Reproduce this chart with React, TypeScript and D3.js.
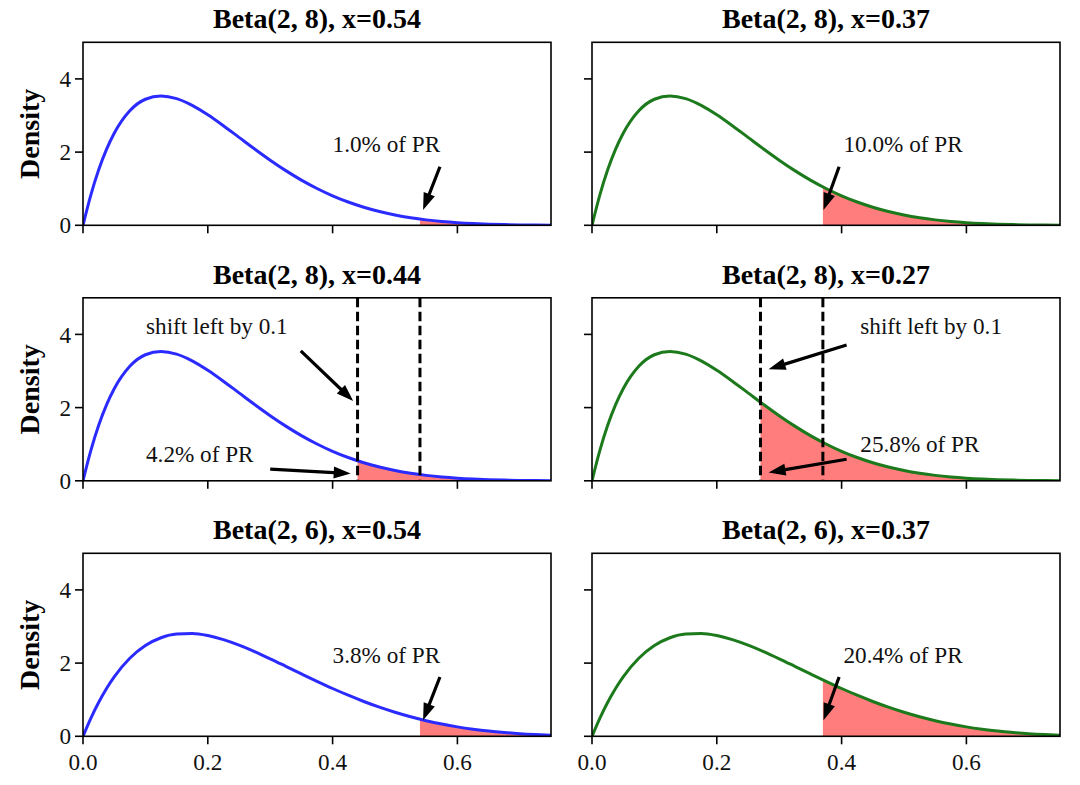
import React from "react";
import * as d3 from "d3";

// ---- data ----
const xValues = [0, 0.0125, 0.025, 0.0375, 0.05, 0.075, 0.1, 0.125, 0.15, 0.175, 0.2, 0.225, 0.25, 0.275, 0.3, 0.325, 0.35, 0.375, 0.4, 0.425, 0.45, 0.475, 0.5, 0.525, 0.55, 0.575, 0.6, 0.625, 0.65, 0.675, 0.7, 0.725, 0.75];
const densityBeta28 = [0, 0.824, 1.508, 2.066, 2.514, 3.129, 3.444, 3.534, 3.462, 3.278, 3.020, 2.721, 2.403, 2.085, 1.779, 1.494, 1.235, 1.006, 0.806, 0.636, 0.493, 0.376, 0.281, 0.206, 0.148, 0.104, 0.071, 0.047, 0.030, 0.019, 0.011, 0.006, 0.003];
const densityBeta26 = [0, 0.493, 0.925, 1.301, 1.625, 2.133, 2.480, 2.693, 2.795, 2.809, 2.753, 2.642, 2.492, 2.314, 2.118, 1.913, 1.706, 1.502, 1.306, 1.122, 0.951, 0.796, 0.656, 0.533, 0.426, 0.335, 0.258, 0.195, 0.143, 0.103, 0.071, 0.048, 0.031];

const panelTitles = ["Beta(2, 8), x=0.54", "Beta(2, 8), x=0.37", "Beta(2, 8), x=0.44", "Beta(2, 8), x=0.27", "Beta(2, 6), x=0.54", "Beta(2, 6), x=0.37"];
const panelSeries = [densityBeta28, densityBeta28, densityBeta28, densityBeta28, densityBeta26, densityBeta26];
const thresholds = [0.54, 0.37, 0.44, 0.27, 0.54, 0.37];
const dashedLines = [[], [], [0.44, 0.54], [0.27, 0.37], [], []];

const xTicks = [0, 0.2, 0.4, 0.6];
const yTicks = [0, 2, 4];
const xDomain = [0, 0.75];
const yDomain = [0, 5];

const annotationTexts = [
  { panel: 0, text: "1.0% of PR", x: 0.4, y: 2.0 },
  { panel: 1, text: "10.0% of PR", x: 0.403, y: 2.0 },
  { panel: 2, text: "shift left by 0.1", x: 0.101, y: 4.0 },
  { panel: 2, text: "4.2% of PR", x: 0.101, y: 0.52 },
  { panel: 3, text: "shift left by 0.1", x: 0.43, y: 4.0 },
  { panel: 3, text: "25.8% of PR", x: 0.43, y: 0.8 },
  { panel: 4, text: "3.8% of PR", x: 0.4, y: 2.0 },
  { panel: 5, text: "20.4% of PR", x: 0.403, y: 2.0 },
];
const annotationArrows = [
  { panel: 0, x1: 0.572, y1: 1.6, x2: 0.545, y2: 0.42 },
  { panel: 1, x1: 0.396, y1: 1.6, x2: 0.371, y2: 0.42 },
  { panel: 2, x1: 0.349, y1: 3.55, x2: 0.433, y2: 2.18 },
  { panel: 2, x1: 0.3, y1: 0.32, x2: 0.429, y2: 0.2 },
  { panel: 3, x1: 0.408, y1: 3.71, x2: 0.283, y2: 3.05 },
  { panel: 3, x1: 0.408, y1: 0.59, x2: 0.283, y2: 0.23 },
  { panel: 4, x1: 0.572, y1: 1.62, x2: 0.545, y2: 0.44 },
  { panel: 5, x1: 0.396, y1: 1.62, x2: 0.371, y2: 0.44 },
];

// ---- layout ----
const W = 1080;
const H = 785;
const colLefts = [83, 592];
const rowTops = [42.3, 297.8, 553.3];
const PW = 468;
const PH = 183;
const colColors = ["#2b2bff", "#1c7a1c"];
const fillColor = "#ff7d7d";
const serif = "'Liberation Serif', 'Times New Roman', Times, serif";
const labelSize = 23.2;

function arrowPath(ax: number, ay: number, bx: number, by: number) {
  const dx = bx - ax;
  const dy = by - ay;
  const len = Math.sqrt(dx * dx + dy * dy);
  const ux = dx / len;
  const uy = dy / len;
  const px = -uy;
  const py = ux;
  const hl = 17;
  const hw = 6;
  const sw = 1.6;
  const hx = bx - ux * hl;
  const hy = by - uy * hl;
  const pts = [
    [ax + px * sw, ay + py * sw],
    [hx + px * sw, hy + py * sw],
    [hx + px * hw, hy + py * hw],
    [bx, by],
    [hx - px * hw, hy - py * hw],
    [hx - px * sw, hy - py * sw],
    [ax - px * sw, ay - py * sw],
  ];
  return "M" + pts.map((p) => p[0].toFixed(2) + "," + p[1].toFixed(2)).join("L") + "Z";
}

function Panel({ idx }: { idx: number }) {
  const col = idx % 2;
  const row = Math.floor(idx / 2);
  const left = colLefts[col];
  const top = rowTops[row];
  const x = d3.scaleLinear().domain(xDomain).range([left, left + PW]);
  const y = d3.scaleLinear().domain(yDomain).range([top + PH, top]);
  const pts = xValues.map((xv, i) => [xv, panelSeries[idx][i]] as [number, number]);
  const line = d3
    .line<[number, number]>()
    .x((d) => x(d[0]))
    .y((d) => y(d[1]))
    .curve(d3.curveMonotoneX);
  const area = d3
    .area<[number, number]>()
    .x((d) => x(d[0]))
    .y0(y(0))
    .y1((d) => y(d[1]))
    .curve(d3.curveMonotoneX);
  const clipId = `clip-fill-${idx}`;
  const plotClip = `clip-plot-${idx}`;
  const color = colColors[col];
  const showXLabels = row === 2;
  const showYLabels = col === 0;
  return (
    <g>
      <defs>
        <clipPath id={clipId}>
          <rect x={x(thresholds[idx])} y={top} width={left + PW - x(thresholds[idx])} height={PH} />
        </clipPath>
        <clipPath id={plotClip}>
          <rect x={left} y={top - 2} width={PW} height={PH + 2} />
        </clipPath>
      </defs>
      <text x={left + PW / 2} y={top - 14} textAnchor="middle" fontFamily={serif} fontWeight="bold" fontSize={28}>
        {panelTitles[idx]}
      </text>
      <path d={area(pts) || ""} fill={fillColor} clipPath={`url(#${clipId})`} />
      <g clipPath={`url(#${plotClip})`}>
        <path d={line(pts) || ""} fill="none" stroke={color} strokeWidth={3} />
      </g>
      {dashedLines[idx].map((v, i) => (
        <line key={i} x1={x(v)} x2={x(v)} y1={top} y2={top + PH} stroke="#000" strokeWidth={3} strokeDasharray="9.5,4.5" />
      ))}
      {annotationTexts
        .filter((a) => a.panel === idx)
        .map((a, i) => (
          <text key={i} x={x(a.x)} y={y(a.y)} fontFamily={serif} fontSize={labelSize} fill="#111">
            {a.text}
          </text>
        ))}
      {annotationArrows
        .filter((a) => a.panel === idx)
        .map((a, i) => (
          <path key={i} d={arrowPath(x(a.x1), y(a.y1), x(a.x2), y(a.y2))} fill="#000" />
        ))}
      <rect x={left} y={top} width={PW} height={PH} fill="none" stroke="#000" strokeWidth={1.6} />
      {xTicks.map((t) => (
        <g key={"x" + t}>
          <line x1={x(t)} x2={x(t)} y1={top + PH} y2={top + PH + 8} stroke="#000" strokeWidth={1.6} />
          {showXLabels && (
            <text x={x(t)} y={top + PH + 33.7} textAnchor="middle" fontFamily={serif} fontSize={labelSize} fill="#111">
              {d3.format(".1f")(t)}
            </text>
          )}
        </g>
      ))}
      {yTicks.map((t) => (
        <g key={"y" + t}>
          <line x1={left - 8} x2={left} y1={y(t)} y2={y(t)} stroke="#000" strokeWidth={1.6} />
          {showYLabels && (
            <text x={left - 12} y={y(t)} dy="0.35em" textAnchor="end" fontFamily={serif} fontSize={labelSize} fill="#111">
              {t}
            </text>
          )}
        </g>
      ))}
      {showYLabels && (
        <text
          transform={`translate(${38.5},${top + PH / 2}) rotate(-90)`}
          textAnchor="middle"
          fontFamily={serif}
          fontWeight="bold"
          fontSize={28}
        >
          Density
        </text>
      )}
    </g>
  );
}

export default function App() {
  return (
    <svg
      width={W}
      height={H}
      viewBox={`0 0 ${W} ${H}`}
      style={{ position: "absolute", left: 0, top: 0, background: "#fff" }}
    >
      <rect width={W} height={H} fill="#fff" />
      {panelTitles.map((_, i) => (
        <Panel key={i} idx={i} />
      ))}
    </svg>
  );
}
